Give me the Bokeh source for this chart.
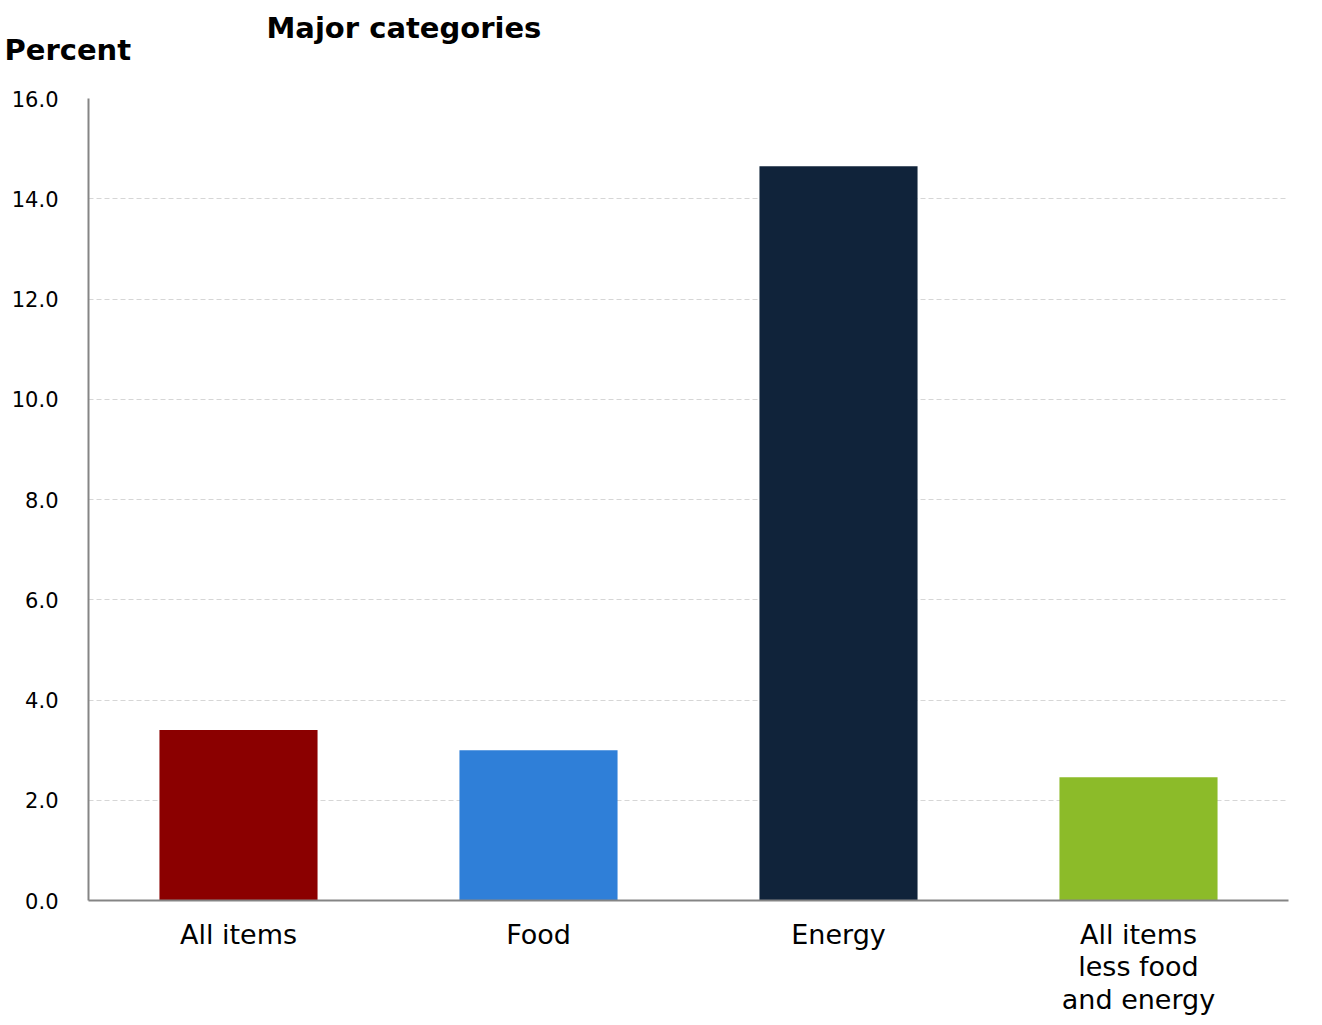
from bokeh.plotting import figure
from bokeh.models import ColumnDataSource, FixedTicker, PrintfTickFormatter, Title
from bokeh.embed import file_html
from bokeh.resources import INLINE

categories = ["All items", "Food", "Energy", "All items\nless food\nand energy"]
values = [3.4, 3.0, 14.65, 2.46]
colors = ["#8b0000", "#2f7fd8", "#10233a", "#8cbb29"]
y_ticks = [0, 2, 4, 6, 8, 10, 12, 14, 16]
title_text = "Major categories"
y_label_text = "Percent"

FONT = "DejaVu Sans"
W, H = 1306, 1017
LEFT, BOTTOM = 88, 117

src = ColumnDataSource(dict(cat=categories, val=values, color=colors))

p = figure(x_range=categories, y_range=(0, 16), width=W, height=H,
           output_backend="svg", toolbar_location=None,
           min_border_left=LEFT, min_border_right=18, min_border_top=98, min_border_bottom=BOTTOM)
p.outline_line_color = None
p.background_fill_color = "white"
p.border_fill_color = "white"

p.vbar(x="cat", top="val", width=0.527, fill_color="color", line_color=None, source=src)

p.yaxis.ticker = FixedTicker(ticks=y_ticks)
p.yaxis.formatter = PrintfTickFormatter(format="%.1f")
p.yaxis.major_label_text_font = FONT
p.yaxis.major_label_text_font_size = "21px"
p.yaxis.major_label_text_color = "black"
p.yaxis.major_label_standoff = 24
p.yaxis.major_tick_line_color = None
p.yaxis.minor_tick_line_color = None
p.yaxis.axis_line_color = "#858585"
p.yaxis.axis_line_width = 2

p.xaxis.major_label_text_font = FONT
p.xaxis.major_label_text_font_size = "27px"
p.xaxis.major_label_text_color = "black"
p.xaxis.major_label_text_line_height = 1.05
p.xaxis.major_label_standoff = 12
p.xaxis.major_tick_line_color = None
p.xaxis.minor_tick_line_color = None
p.xaxis.axis_line_color = "#858585"
p.xaxis.axis_line_width = 2

p.xgrid.grid_line_color = None
p.ygrid.grid_line_color = "#d6d6d6"
p.ygrid.grid_line_dash = "5 3"
p.ygrid.grid_line_width = 1

# main title sits farther from the plot, "Percent" is the one nearest to it
p.title = Title(text=title_text, align="left", offset=266 - LEFT, standoff=-88,
                text_font=FONT, text_font_style="bold", text_font_size="29px",
                text_color="black")
p.add_layout(Title(text=y_label_text, align="left", offset=4 - LEFT, standoff=62,
                   vertical_align="middle",
                   text_font=FONT, text_font_style="bold", text_font_size="29px",
                   text_color="black"), "above")

open("out.html", "w").write(file_html(p, INLINE))
